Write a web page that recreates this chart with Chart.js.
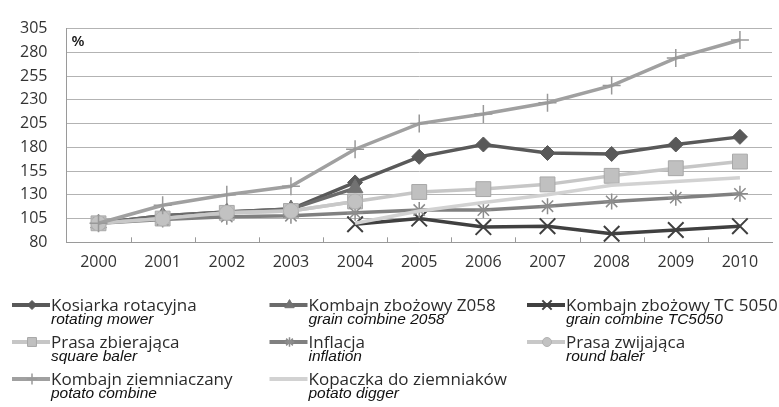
<!DOCTYPE html>
<html>
<head>
<meta charset="utf-8">
<script src="https://cdn.jsdelivr.net/npm/chart.js"></script>
<style>
html, body { margin: 0; padding: 0; background: #fff; overflow: hidden; }
</style>
</head>
<body>
<canvas id="chart" width="785" height="407"></canvas>
<script>
// years on the x axis
var years = ["2000", "2001", "2002", "2003", "2004", "2005", "2006", "2007", "2008", "2009", "2010"];

// y axis range (%)
var yMin = 80;
var yMax = 305;
var yStep = 25;

// series, index 2000 = 100
var mower        = [100, 108, 112, 115, 143, 170, 183, 174, 173, 183, 191];
var combineZ058  = [100, 108, 112, 115, 137, null, null, null, null, null, null];
var combineTC    = [null, null, null, null, 99, 105, 96, 97, 89, 93, 97];
var squareBaler  = [100, 105, 111, 113, 123, 133, 136, 141, 150, 158, 165];
var inflation    = [100, 104, 107, 108, 111, 114, 114, 118, 123, 127, 131];
var roundBaler   = [100, 105, 111, 113, 123, null, null, null, null, null, null];
var potatoComb   = [100, 119, 130, 139, 178, 205, 215, 227, 245, 274, 293];
var potatoDigger = [null, null, null, null, 100, 113, 122, 130, 140, 144, 148];

var namesPl = ["Kosiarka rotacyjna", "Kombajn zbożowy Z058", "Kombajn zbożowy TC 5050",
               "Prasa zbierająca", "Inflacja", "Prasa zwijająca",
               "Kombajn ziemniaczany", "Kopaczka do ziemniaków"];
var namesEn = ["rotating mower", "grain combine 2058", "grain combine TC5050",
               "square baler", "inflation", "round baler",
               "potato combine", "potato digger"];

function series(i, data, line, style, radius, fill, edge, edgeWidth) {
    return {
        label: namesPl[i],
        data: data,
        borderColor: line,
        borderWidth: 3.5,
        pointStyle: style,
        pointRadius: radius,
        pointBackgroundColor: fill,
        pointBorderColor: edge,
        pointBorderWidth: edgeWidth,
        tension: 0,
        order: 8 - i
    };
}

var datasets = [
    series(0, mower, "#595959", "rectRot", 7.5, "#595959", "#595959", 1),
    series(1, combineZ058, "#6b6b6b", "triangle", 9, "#727272", "#727272", 1),
    series(2, combineTC, "#404040", "crossRot", 11, "#404040", "#404040", 2),
    series(3, squareBaler, "#c6c6c6", "rect", 10.5, "#c0c0c0", "#a8a8a8", 1),
    series(4, inflation, "#808080", "star", 8, "#8c8c8c", "#8c8c8c", 1.5),
    series(5, roundBaler, "#c8c8c8", "circle", 7.5, "#c2c2c2", "#b2b2b2", 1),
    series(6, potatoComb, "#a0a0a0", "cross", 9, "#999999", "#999999", 1.5),
    series(7, potatoDigger, "#d2d2d2", "circle", 0, "#d2d2d2", "#d2d2d2", 0)
];

var extras = {
    id: "extras",
    beforeDatasetsDraw: function(chart) {
        var ctx = chart.ctx, x = chart.scales.x, a = chart.chartArea;
        ctx.save();
        ctx.strokeStyle = "#9a9a9a";
        ctx.lineWidth = 1;
        for (var i = 1; i < years.length; i++) {
            var px = Math.round((x.getPixelForValue(i - 1) + x.getPixelForValue(i)) / 2) + 0.5;
            ctx.beginPath();
            ctx.moveTo(px, a.bottom - 5);
            ctx.lineTo(px, a.bottom);
            ctx.stroke();
        }
        ctx.fillStyle = "#111";
        ctx.font = "600 15px 'Open Sans'";
        ctx.textBaseline = "middle";
        ctx.fillText("%", a.left + 5, a.top + 13);
        ctx.restore();
    },
    afterDraw: function(chart) {
        var ctx = chart.ctx;
        ctx.save();
        chart.data.datasets.forEach(function(ds, i) {
            var col = i % 3, row = Math.floor(i / 3);
            var x0 = 12 + col * 257.5;
            var y0 = 305 + row * 37;
            ctx.strokeStyle = ds.borderColor;
            ctx.lineWidth = 4;
            ctx.beginPath();
            ctx.moveTo(x0, y0);
            ctx.lineTo(x0 + 38, y0);
            ctx.stroke();
            if (ds.pointRadius > 0) {
                ctx.fillStyle = ds.pointBackgroundColor;
                ctx.strokeStyle = ds.pointBorderColor;
                ctx.lineWidth = ds.pointBorderWidth;
                Chart.helpers.drawPoint(ctx, {
                    pointStyle: ds.pointStyle,
                    radius: ds.pointRadius * 0.6,
                    rotation: 0,
                    borderWidth: ds.pointBorderWidth
                }, x0 + 20, y0);
            }
            ctx.textAlign = "left";
            ctx.textBaseline = "alphabetic";
            ctx.fillStyle = "#2b2b2b";
            ctx.font = "17px 'Open Sans'";
            ctx.fillText(namesPl[i], x0 + 39, y0 + 6);
            ctx.fillStyle = "#111";
            ctx.font = "italic 15.5px 'Liberation Sans'";
            ctx.fillText(namesEn[i], x0 + 39, y0 + 18.5);
        });
        ctx.restore();
    }
};

new Chart(document.getElementById("chart"), {
    type: "line",
    data: { labels: years, datasets: datasets },
    options: {
        responsive: false,
        animation: false,
        layout: { padding: { left: 1, top: 18, right: 0, bottom: 131.5 } },
        plugins: {
            legend: { display: false },
            tooltip: { enabled: false }
        },
        scales: {
            x: {
                offset: true,
                grid: { display: false },
                border: { display: true, color: "#9a9a9a" },
                ticks: {
                    padding: 3,
                    color: "#333",
                    font: { family: "'Open Sans'", size: 16 }
                }
            },
            y: {
                min: yMin,
                max: yMax,
                grid: { color: "#b3b3b3", drawTicks: false },
                border: { display: true, color: "#9a9a9a" },
                ticks: {
                    stepSize: yStep,
                    padding: 19,
                    color: "#333",
                    font: { family: "'Open Sans'", size: 16 }
                }
            }
        }
    },
    plugins: [extras]
});
</script>
</body>
</html>
